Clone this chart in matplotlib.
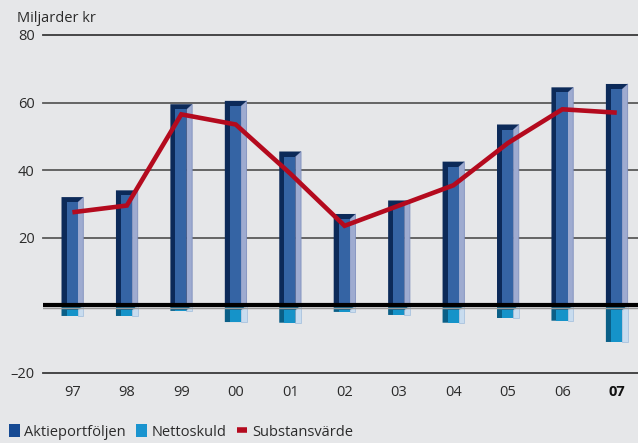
import matplotlib
matplotlib.use('Agg')
import matplotlib.pyplot as plt
from matplotlib.patches import Polygon, Patch
from matplotlib.lines import Line2D

years = ['97', '98', '99', '00', '01', '02', '03', '04', '05', '06', '07']
aktie = [32, 34, 59.5, 60.5, 45.5, 27, 31, 42.5, 53.5, 64.5, 65.5]
netto = [-3.2, -3.2, -1.7, -5.0, -5.2, -2.0, -2.9, -5.2, -3.8, -4.6, -10.9]
subst = [27.5, 29.5, 56.5, 53.5, 39, 23.5, 29.5, 35.5, 48, 58, 57]
yticks = [80, 60, 40, 20, -20]
ytick_labels = ['80', '60', '40', '20', '\u201320']

BG = '#e6e7e9'
TXT = '#2b2b2b'
plt.rcParams['font.family'] = ['Open Sans', 'DejaVu Sans']

fig = plt.figure(figsize=(6.38, 4.43), dpi=100, facecolor=BG)
ax = fig.add_axes([43 / 638, 1 - 372.7 / 443, 1 - 43 / 638, (372.7 - 35) / 443])
ax.set_facecolor(BG)
ax.set_xlim(-0.54, 10.39)
ax.set_ylim(-20, 80)
for s in ax.spines.values():
    s.set_visible(False)

# grid lines
for t in yticks:
    col = '#3a3a3a' if t in (80, -20) else '#5a5a5a'
    ax.axhline(t, color=col, lw=1.3, zorder=1, clip_on=False)

W = 0.2      # half width
LS = 0.092   # left dark strip
RS = 0.104   # right light side
CAP = 1.5    # top cap in data units

def bar3d(i, v, dark, face, light, edge):
    L, R = i - W, i + W
    xs = R - RS
    if v >= 0:
        dark_poly = [(L, 0), (L, v), (R, v), (xs, v - CAP), (xs, 0)]
        light_poly = [(xs, 0), (xs, v - CAP), (R, v), (R, 0)]
        face_poly = [(L + LS, 0), (L + LS, v - CAP), (xs, v - CAP), (xs, 0)]
    else:
        cap = min(CAP, abs(v))
        dark_poly = [(L, 0), (L, v), (xs, v), (xs, -cap), (R, 0)]
        light_poly = [(xs, -cap), (xs, v), (R, v), (R, 0)]
        face_poly = [(L + LS, -cap), (L + LS, v), (xs, v), (xs, -cap)]
    ax.add_patch(Polygon(light_poly, closed=True, facecolor=light, edgecolor=edge, lw=0.6, zorder=2))
    ax.add_patch(Polygon(dark_poly, closed=True, facecolor=dark, edgecolor='none', zorder=3))
    ax.add_patch(Polygon(face_poly, closed=True, facecolor=face, edgecolor='none', zorder=4))

for i, v in enumerate(aktie):
    bar3d(i, v, '#0c2a59', '#3564a4', '#9eabd0', '#7f8fbd')
for i, v in enumerate(netto):
    bar3d(i, v, '#0a5f87', '#1593c9', '#c8dcef', '#a9c3de')

# zero line with shadow
ax.axhline(-0.9, color='#9a9a9a', lw=1.0, zorder=5)
ax.axhline(0, color='#000000', lw=3.0, zorder=6)

# Substansvärde line
ax.plot(range(len(years)), subst, color='#b40a1e', lw=3.3, zorder=7,
        solid_joinstyle='miter', solid_capstyle='butt')

ax.set_yticks(yticks)
ax.set_yticklabels(ytick_labels)
ax.set_xticks(range(len(years)))
ax.set_xticklabels(years)
ax.tick_params(axis='both', length=0, labelsize=10.5, colors=TXT)
ax.tick_params(axis='y', pad=6)
ax.tick_params(axis='x', pad=9)
for lab in ax.get_xticklabels():
    if lab.get_text() == '07':
        lab.set_fontweight('bold')
        lab.set_color('#111111')

fig.text(17 / 638, 1 - 18 / 443, 'Miljarder kr', fontsize=10.5, color=TXT,
         ha='left', va='center')

handles = [Patch(facecolor='#164a93', edgecolor='none', label='Aktieportföljen'),
           Patch(facecolor='#1a94cf', edgecolor='none', label='Nettoskuld'),
           Line2D([0], [0], color='#b40a1e', lw=4, solid_capstyle='butt', label='Substansvärde')]
fig.legend(handles=handles, loc='center left', bbox_to_anchor=(9 / 638, 1 - 432 / 443),
           ncol=3, frameon=False, fontsize=10.5, handlelength=0.75, handleheight=0.95,
           handletextpad=0.3, columnspacing=0.7, labelcolor=TXT, borderpad=0, borderaxespad=0)

fig.savefig('out.png', dpi=100, facecolor=BG)
